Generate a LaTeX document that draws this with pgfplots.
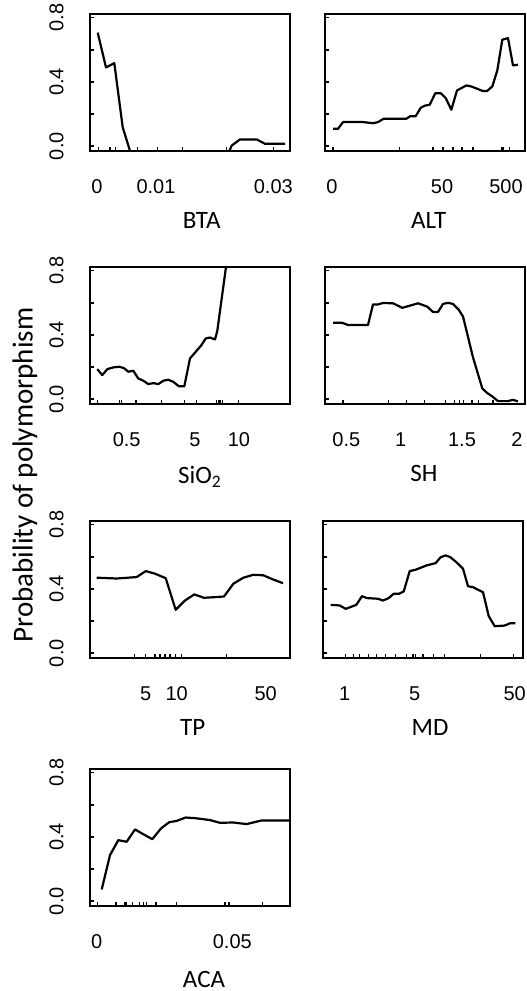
\documentclass[border=0pt]{standalone}
\usepackage{fontspec}
\setmainfont{Liberation Sans}
\newfontfamily\calfont{Carlito}
\usepackage{pgfplots}
\pgfplotsset{compat=1.18}

% x is the position across the panel (0..200), y the probability
\pgfplotsset{
  panel/.style={
    scale only axis, width=100pt, height=68.5pt,
    xmin=0, xmax=200, ymin=-0.03, ymax=0.823,
    axis line style={line width=1.2pt},
    tick align=inside, major tick length=2pt,
    xtick pos=lower, ytick pos=left,
    tick style={line width=0.7pt, black},
    ytick={0,0.2,0.4,0.6,0.8},
    yticklabels={0.0,,0.4,,0.8},
    yticklabel style={font=\fontsize{10}{10}\selectfont, xshift=-13.3pt, rotate=90, anchor=base},
    xticklabels={},
    extra x tick style={major tick length=0pt,
      xticklabel style={font=\fontsize{10}{10}\selectfont, anchor=base, yshift=-21pt}},
    xlabel style={font=\calfont\fontsize{12.5}{12.5}\selectfont, anchor=base},
    cycle list={{black, mark=none}},
    every axis plot post/.append style={line width=1.1pt, line join=round},
  },
  nolab/.style={yticklabels={}},
}

\begin{document}
\begin{tikzpicture}
\useasboundingbox (0,0) rectangle (263pt,-495.5pt);

% BTA
\begin{axis}[panel, at={(45pt,-7pt)}, anchor=north west,
  xtick={8.3,20,25.7,47.3,67.3,92.3,136.7,183.3},
  extra x ticks={7,66,183.3}, extra x tick labels={0,0.01,0.03},
  xlabel={BTA}, xlabel style={at={(axis description cs:0.5585,-0.564)}}]
\addplot coordinates {(7.7,0.707) (16,0.49) (24.3,0.517) (32.7,0.118) (42,-0.07)
  (136.5,-0.07) (141.7,0.004) (150,0.042) (166.7,0.042) (175,0.015) (195,0.015)};
\end{axis}

% ALT
\begin{axis}[panel, nolab, at={(162.5pt,-7pt)}, anchor=north west,
  xtick={8,74.7,108,118,127.3,128.7,137,148,176.3,178,184.7},
  extra x ticks={7,117,181}, extra x tick labels={0,50,500},
  xlabel={ALT}, xlabel style={at={(axis description cs:0.5185,-0.564)}}]
\addplot coordinates {(8,0.108) (13,0.108) (18,0.15) (38,0.15) (48,0.143) (53,0.15)
  (58.7,0.171) (68,0.171) (81.3,0.171) (85.3,0.187) (90.7,0.187) (95.7,0.239)
  (99.7,0.252) (104.7,0.258) (110.3,0.33) (115.7,0.33) (120.7,0.3) (126.3,0.227)
  (132,0.347) (141.3,0.378) (146.3,0.372) (158,0.343) (162,0.343) (167.3,0.372)
  (172.3,0.472) (177.3,0.663) (183,0.673) (188,0.503) (193,0.507)};
\end{axis}

% SiO2
\begin{axis}[panel, at={(45pt,-133.5pt)}, anchor=north west,
  xtick={7.3,29.3,31.7,46,71.7,94.3,106.7,126.7,128.3,130,132.7,148.3},
  extra x ticks={36.7,105,149}, extra x tick labels={0.5,5,10},
  xlabel={SiO\textsubscript{2}}, xlabel style={at={(axis description cs:0.55,-0.58)}}]
\addplot coordinates {(7.3,0.187) (12.3,0.15) (17.3,0.187) (23.3,0.198) (29.3,0.202)
  (34,0.193) (38.3,0.171) (43.3,0.177) (48.3,0.129) (53.3,0.115) (58.3,0.094)
  (63.3,0.1) (68.3,0.094) (73.3,0.115) (78.3,0.121) (83.3,0.108) (89,0.08)
  (94.3,0.08) (100,0.254) (106.7,0.302) (111,0.333) (115.7,0.378) (120,0.384)
  (125,0.372) (127.3,0.426) (136,0.823) (138,0.9)};
\end{axis}

% SH
\begin{axis}[panel, nolab, at={(162.5pt,-133.5pt)}, anchor=north west,
  xtick={18,63.7,81.3,99.7,120.3,129.7,134.7,138.7,147,153.7,168},
  extra x ticks={21.3,75.7,137,192}, extra x tick labels={0.5,1,1.5,2},
  xlabel={SH}, xlabel style={at={(axis description cs:0.495,-0.567)}}]
\addplot coordinates {(8,0.476) (17,0.476) (23,0.462) (43,0.462) (48,0.59) (53,0.59)
  (58,0.599) (68,0.597) (77.3,0.569) (84.7,0.582) (93,0.597) (102.3,0.576)
  (108,0.543) (113,0.543) (118,0.593) (123,0.6) (128,0.593) (133.7,0.557)
  (138,0.515) (148,0.26) (157.3,0.067) (162.3,0.038) (167.3,0.017) (173,-0.012)
  (183,-0.012) (188,-0.004) (193,-0.014)};
\end{axis}

% TP
\begin{axis}[panel, at={(45pt,-260.5pt)}, anchor=north west,
  xtick={44.3,55.7,65,70,75,80,85.7,91.7,136.7},
  extra x ticks={55.7,86.7,175.7}, extra x tick labels={5,10,50},
  xlabel={TP}, xlabel style={at={(axis description cs:0.5135,-0.562)}}]
\addplot coordinates {(6.7,0.47) (26.7,0.465) (46.7,0.474) (55.7,0.511) (65,0.495)
  (75.7,0.467) (85.7,0.27) (95,0.328) (104.3,0.366) (114,0.345) (125,0.349)
  (134,0.353) (143.3,0.432) (153.3,0.47) (163.3,0.488) (173.3,0.485)
  (183,0.459) (193,0.436)};
\end{axis}

% MD
\begin{axis}[panel, nolab, at={(161.5pt,-260.5pt)}, anchor=north west,
  xtick={22.3,30.7,36.7,45.7,53.3,62.3,72.3,83.3,90,92.3,100,110.7,121.7,157.3,190.7},
  extra x ticks={21.7,91.7,191.7}, extra x tick labels={1,5,50},
  xlabel={MD}, xlabel style={at={(axis description cs:0.535,-0.562)}}]
\addplot coordinates {(7.7,0.301) (16.7,0.297) (22.7,0.276) (33.3,0.301) (39,0.355)
  (44,0.343) (55,0.339) (60,0.328) (65.7,0.343) (70.7,0.37) (76,0.37) (80.7,0.384)
  (86.7,0.511) (93.3,0.521) (103.3,0.546) (112.7,0.561) (117.7,0.598) (122.7,0.609)
  (127.3,0.598) (133.3,0.567) (140,0.526) (145,0.417) (150,0.411) (155,0.395)
  (160,0.38) (165.7,0.231) (171.7,0.168) (181.7,0.172) (187.3,0.187) (192.3,0.187)};
\end{axis}

% ACA
\begin{axis}[panel, at={(45pt,-384.5pt)}, anchor=north west,
  xtick={7.7,26,35,36.7,42.7,49.3,53.3,56.7,66,86.7,135,139,172.3},
  extra x ticks={6.7,142.3}, extra x tick labels={0,0.05},
  xlabel={ACA}, xlabel style={at={(axis description cs:0.57,-0.594)}}]
\addplot coordinates {(11.7,0.073) (20,0.287) (28.3,0.38) (36.7,0.37) (45,0.447)
  (53.3,0.417) (62.3,0.386) (71,0.453) (79.3,0.492) (86.7,0.5) (95.7,0.521)
  (105,0.517) (120,0.505) (130,0.488) (143.3,0.49) (156.7,0.48) (171.7,0.503)
  (200,0.503)};
\end{axis}

\node[rotate=90, font=\calfont\fontsize{14.5}{14.5}\selectfont] at (12.5pt,-237.5pt)
  {Probability of polymorphism};
\end{tikzpicture}
\end{document}
